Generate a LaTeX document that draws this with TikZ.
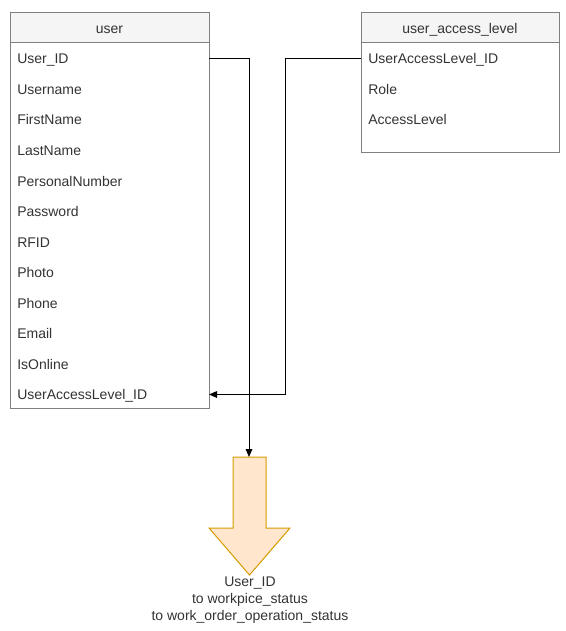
\documentclass[tikz,border=0pt]{standalone}
\usepackage{fontspec}
\setmainfont{Liberation Sans}
\usetikzlibrary{arrows.meta}
\definecolor{tblborder}{HTML}{808080}
\definecolor{hdrfill}{HTML}{F5F5F5}
\definecolor{txt}{HTML}{333333}
\definecolor{arrfill}{HTML}{FFE6CC}
\definecolor{arrdraw}{HTML}{D79B00}
\tikzset{
  tbl/.style={draw=tblborder, line width=0.75pt},
  hdr/.style={draw=tblborder, fill=hdrfill, line width=0.75pt},
  rowtxt/.style={anchor=base west, inner sep=0pt, font=\fontsize{10.5}{12.75}\selectfont, text=txt},
  hdrtxt/.style={anchor=base, inner sep=0pt, font=\fontsize{10.5}{12.75}\selectfont, text=txt},
  conn/.style={draw=black, line width=0.75pt, -{Triangle[length=6pt,width=5pt]}},
  blockarrow/.style={draw=arrdraw, fill=arrfill, line width=0.75pt, line join=miter},
  captxt/.style={anchor=north, align=center, inner sep=0pt, font=\fontsize{10.5}{12.75}\selectfont, text=txt}
}
\begin{document}
\begin{tikzpicture}[x=0.75pt, y=-0.75pt]
\useasboundingbox (0,0) rectangle (565,631);
% user table
\draw[tbl] (10,13) rectangle (209,408);
\draw[hdr] (10,13) rectangle (209,43);
\node[hdrtxt] (userhdr) at (109.5,33.5) {user};
\node[rowtxt] (uid) at (17,64) {User\_ID};
\node[rowtxt] (uname) at (17,94.5) {Username};
\node[rowtxt] (ufirst) at (17,125) {FirstName};
\node[rowtxt] (ulast) at (17,155.5) {LastName};
\node[rowtxt] (upers) at (17,186) {PersonalNumber};
\node[rowtxt] (upass) at (17,216.5) {Password};
\node[rowtxt] (urfid) at (17,247) {RFID};
\node[rowtxt] (uphoto) at (17,277.5) {Photo};
\node[rowtxt] (uphone) at (17,308) {Phone};
\node[rowtxt] (uemail) at (17,338.5) {Email};
\node[rowtxt] (uonline) at (17,369) {IsOnline};
\node[rowtxt] (ualid) at (17,399.5) {UserAccessLevel\_ID};
\coordinate (uidR) at (209,59);
\coordinate (ualidR) at (209,394.5);
% access level table
\draw[tbl] (361,13) rectangle (559,153);
\draw[hdr] (361,13) rectangle (559,43);
\node[hdrtxt] (alhdr) at (460,33.5) {user\_access\_level};
\node[rowtxt] (alid) at (368,64) {UserAccessLevel\_ID};
\node[rowtxt] (alrole) at (368,94.5) {Role};
\node[rowtxt] (allevel) at (368,125) {AccessLevel};
\coordinate (alidL) at (361,59);
% block arrow
\draw[blockarrow] (233,457) -- (266,457) -- (266,528) -- (290,528) -- (249.5,575) -- (209,528) -- (233,528) -- cycle;
\coordinate (bigtop) at (249,457);
\node[captxt] (cap) at (250,577) {User\_ID\\to workpice\_status\\to work\_order\_operation\_status};
% connectors
\draw[conn] (uidR) -- (249,59) -- (bigtop);
\draw[conn] (alidL) -- (285,59) -- (285,394.5) -- (ualidR);
\end{tikzpicture}
\end{document}
